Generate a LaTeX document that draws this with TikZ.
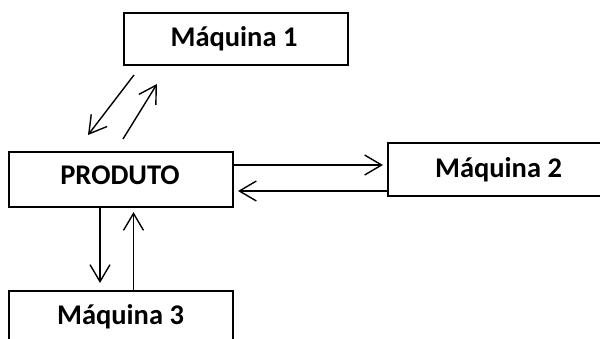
\documentclass[tikz,border=0pt]{standalone}
\usepackage{fontspec}
\setmainfont{Carlito}
\usetikzlibrary{arrows.meta,calc}
\begin{document}
\begin{tikzpicture}[x=0.5pt,y=-0.5pt,
  box/.style={draw,line width=1pt,inner sep=0pt,anchor=north west},
  lbl/.style={inner sep=0pt,anchor=base,font=\fontsize{14.25}{17}\selectfont\bfseries},
  arr/.style={line width=0.7pt,-{Straight Barb[length=8.5pt,width=10pt,line width=0.7pt]}}]
\clip (0,0) rectangle (600,338);
\fill[white] (0,0) rectangle (600,338);
% boxes
\node[box,minimum width=112pt,minimum height=26pt] (m1) at (123,12) {};
\node[box,minimum width=112pt,minimum height=27.5pt] (prod) at (8,151) {};
\node[box,minimum width=115pt,minimum height=26.5pt] (m2) at (387,142) {};
\node[box,minimum width=112pt,minimum height=27.5pt] (m3) at (8,290) {};
% labels
\node[lbl] (m1t) at (234,46) {Máquina 1};
\node[lbl] (prodt) at (120,184) {PRODUTO};
\node[lbl] (m2t) at (498.5,177) {Máquina 2};
\node[lbl] (m3t) at (120.5,324) {Máquina 3};
% connectors
\draw[arr] ($(m1.south west)+(11,9)$) -- ($(prod.north west)+(80,-16)$);
\draw[arr] ($(prod.north west)+(115,-12)$) -- ($(m1.south west)+(34,18)$);
\draw[arr] ($(prod.north east)+(0,14)$) -- ($(m2.north west)+(-4,23)$);
\draw[arr] ($(m2.north west)+(0,49)$) -- ($(prod.north east)+(4,40)$);
\draw[arr] ($(prod.south west)+(92,0)$) -- ($(m3.north west)+(92,-7)$);
\draw[arr] ($(m3.north west)+(125.5,0)$) -- ($(prod.south west)+(125.5,4)$);
\end{tikzpicture}
\end{document}
